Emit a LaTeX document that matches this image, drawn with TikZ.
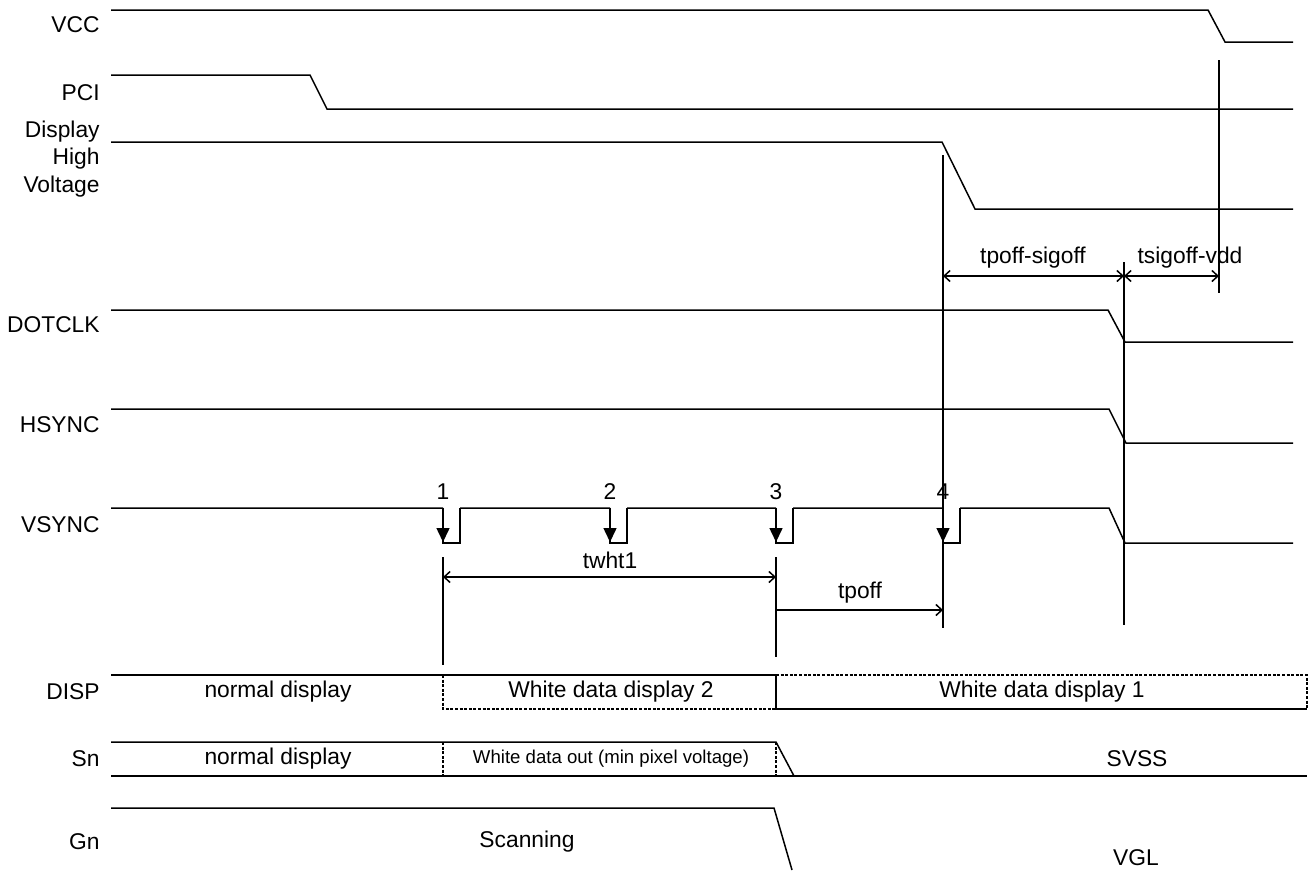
\documentclass[tikz,border=0pt]{standalone}
\usepackage{fontspec}
\setmainfont{Liberation Sans}
\usetikzlibrary{arrows.meta, positioning}

\begin{document}
\begin{tikzpicture}[x=0.5pt, y=-0.5pt,
    sig/.style={line width=0.75pt, line join=miter},
    guide/.style={line width=0.75pt},
    dim/.style={line width=0.75pt, {Straight Barb[length=3pt,width=5.5pt]}-{Straight Barb[length=3pt,width=5.5pt]}},
    dimr/.style={line width=0.75pt, -{Straight Barb[length=3pt,width=5.5pt]}},
    edgearrow/.style={line width=0.75pt, -{Triangle[length=7pt,width=6.5pt]}},
    dotbox/.style={line width=0.7pt, dash pattern=on 1.5pt off 0.8pt},
    signame/.style={anchor=east, inner sep=0pt, font=\fontsize{11.4}{13.75}\selectfont, align=right},
    txt/.style={inner sep=0pt, font=\fontsize{11.4}{13.75}\selectfont},
    smalltxt/.style={inner sep=0pt, font=\fontsize{9.3}{11}\selectfont}]
    \useasboundingbox (0,0) rectangle (1309,873);

    % Signal names
    \node[signame] (vcc) at (100,25) {VCC};
    \node[signame] (pci) at (100,93) {PCI};
    \node[signame] (dhv) at (100,159) {Display\\High\\Voltage};
    \node[signame] (dotclk) at (100,325) {DOTCLK};
    \node[signame] (hsync) at (100,425) {HSYNC};
    \node[signame] (vsync) at (100,525) {VSYNC};
    \node[signame] (disp) at (100,692) {DISP};
    \node[signame] (sn) at (100,759) {Sn};
    \node[signame] (gn) at (100,842) {Gn};

    % Power and clock waveforms
    \draw[sig] (111,10) -- (1208,10) -- (1225,42) -- (1293,42);
    \draw[sig] (111,75) -- (310,75) -- (327,109) -- (1293,109);
    \draw[sig] (111,142) -- (942,142) -- (975,209) -- (1293,209);
    \draw[sig] (111,310) -- (1108,310) -- (1125,342) -- (1293,342);
    \draw[sig] (111,409) -- (1109,409) -- (1126,443) -- (1293,443);

    % VSYNC with pulses
    \draw[sig] (111,508) -- (443,508) (460,508) -- (610,508) (627,508) -- (776,508)
        (793,508) -- (943,508) (960,508) -- (1109,508) -- (1125,543) -- (1293,543);
    \foreach \px/\n in {443/1, 610/2, 776/3, 943/4} {
        \draw[sig] (\px,508) -- (\px,543) -- ++(17,0) -- ++(0,-35);
        \draw[edgearrow] (\px,508) -- (\px,542);
        \node[txt] (num\n) at (\px,492) {\n};
    }

    % Guide lines
    \coordinate (g1a) at (443,557);  \coordinate (g1b) at (443,665);
    \coordinate (g3a) at (776,557);  \coordinate (g3b) at (776,657);
    \coordinate (g4a) at (943,155);  \coordinate (g4b) at (943,628);
    \coordinate (gsa) at (1124,262); \coordinate (gsb) at (1124,625);
    \coordinate (gva) at (1219,60);  \coordinate (gvb) at (1219,293);
    \draw[guide] (g1a) -- (g1b);
    \draw[guide] (g3a) -- (g3b);
    \draw[guide] (g4a) -- (g4b);
    \draw[guide] (gsa) -- (gsb);
    \draw[guide] (gva) -- (gvb);

    % Timing intervals
    \coordinate (psL) at (943,276);  \coordinate (psR) at (1124,276);
    \coordinate (svR) at (1219,276);
    \coordinate (twL) at (443,577);  \coordinate (twR) at (776,577);
    \coordinate (tpL) at (776,610);  \coordinate (tpR) at (943,610);
    \draw[dim] (psL) -- (psR);
    \draw[dim] (psR) -- (svR);
    \draw[dim] (twL) -- (twR);
    \draw[dimr] (tpL) -- (tpR);
    \node[txt] (tpsig) at (1033,258) {tpoff-sigoff};
    \node[txt] (tsvdd) at (1190,258) {tsigoff-vdd};
    \node[txt] (twht) at (610,560) {twht1};
    \node[txt] (tpoff) at (860,593) {tpoff};

    % DISP
    \draw[sig] (111,675) -- (776,675);
    \draw[dotbox] (443,675) -- (443,709) -- (776,709);
    \draw[sig] (776,675) -- (776,709) -- (1307,709);
    \draw[dotbox] (776,675) -- (1307,675) -- (1307,709);
    \node[txt] (dispn) at (278,692) {normal display};
    \node[txt] (dispw2) at (611,692) {White data display 2};
    \node[txt] (dispw1) at (1042,692) {White data display 1};

    % Sn
    \draw[sig] (111,742) -- (776,742) -- (794,776);
    \draw[sig] (111,776) -- (1307,776);
    \draw[dotbox] (443,742) -- (443,776);
    \draw[dotbox] (776,742) -- (776,776);
    \node[txt] (snn) at (278,759) {normal display};
    \node[smalltxt] (snw) at (611,759) {White data out (min pixel voltage)};
    \node[txt] (svss) at (1137,759) {SVSS};

    % Gn
    \draw[sig] (111,808) -- (774,808) -- (792,870);
    \node[txt] (scan) at (527,842) {Scanning};
    \node[txt] (vgl) at (1136,858) {VGL};
\end{tikzpicture}
\end{document}
